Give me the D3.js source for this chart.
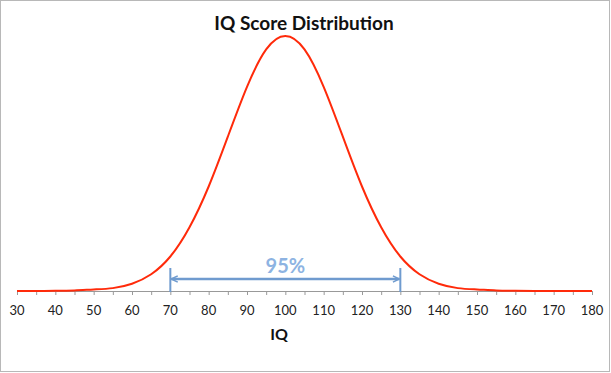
<!DOCTYPE html>
<html>
<head>
<meta charset="utf-8">
<script src="https://cdn.jsdelivr.net/npm/d3@7"></script>
<style>
  body { margin: 0; background: #fff; }
  svg { display: block; font-family: Lato, "Open Sans", sans-serif; }
</style>
</head>
<body>
<div id="chart"></div>
<script>
// IQ values (x) and the density (y)
var iqValues = [30, 35, 40, 45, 50, 55, 60, 65, 70, 75, 80, 85, 90, 95, 100,
                105, 110, 115, 120, 125, 130, 135, 140, 145, 150, 155, 160, 165, 170, 175, 180];
var density = [0.00001, 0.00004, 0.0002, 0.0006, 0.0016, 0.0030, 0.0076, 0.0175, 0.036, 0.0665, 0.109, 0.161, 0.213, 0.252, 0.266,
               0.252, 0.213, 0.161, 0.109, 0.0665, 0.036, 0.0175, 0.0076, 0.0030, 0.0016, 0.0006, 0.0002, 0.00004, 0.00001, 0.0, 0.0];
var tickLabels = [30, 40, 50, 60, 70, 80, 90, 100, 110, 120, 130, 140, 150, 160, 170, 180];
var rangeLow = 70, rangeHigh = 130, rangeLabel = "95%";

var width = 611, height = 373;

var svg = d3.select("#chart").append("svg")
    .attr("width", width)
    .attr("height", height);

svg.append("rect")
    .attr("x", 0.5).attr("y", 0.5)
    .attr("width", 609).attr("height", 371)
    .attr("fill", "#fff")
    .attr("stroke", "#b8b8b8");

var x = d3.scaleLinear()
    .domain([30, 180])
    .range([17, 592]);

var y = d3.scaleLinear()
    .domain([0, 0.266])
    .range([291, 36]);

// axis with minor ticks every 5
var axis = svg.append("g")
    .attr("transform", "translate(0,291)")
    .call(d3.axisBottom(x).tickValues(d3.range(30, 181, 5)).tickSize(4).tickFormat(""));
axis.select(".domain").attr("stroke", "#999").attr("d", "M" + x(30) + ",0.5H" + x(180));
axis.selectAll(".tick line").attr("stroke", "#999");

svg.append("g").selectAll("text")
    .data(tickLabels)
    .enter().append("text")
    .attr("x", function(d) { return x(d); })
    .attr("y", 315)
    .attr("text-anchor", "middle")
    .attr("font-size", 13)
    .attr("fill", "#222")
    .text(function(d) { return d; });

var line = d3.line()
    .x(function(d, i) { return x(iqValues[i]); })
    .y(function(d) { return Math.min(y(d), 291); })
    .curve(d3.curveNatural);

svg.append("path")
    .datum(density)
    .attr("d", line)
    .attr("fill", "none")
    .attr("stroke", "#ff2a0a")
    .attr("stroke-width", 2);

// 95% range marker
var blue = "#6f9bcf";
svg.append("defs").selectAll("marker")
    .data(["start", "end"])
    .enter().append("marker")
    .attr("id", function(d) { return "arr-" + d; })
    .attr("viewBox", "0 0 10 10")
    .attr("refX", function(d) { return d == "end" ? 9 : 1; })
    .attr("refY", 5)
    .attr("markerWidth", 8).attr("markerHeight", 8)
    .attr("markerUnits", "userSpaceOnUse")
    .attr("orient", "auto")
    .append("path")
    .attr("d", function(d) { return d == "end" ? "M1,1L9,5L1,9" : "M9,1L1,5L9,9"; })
    .attr("fill", "none")
    .attr("stroke", blue)
    .attr("stroke-width", 1.8);

[rangeLow, rangeHigh].forEach(function(v) {
    svg.append("line")
        .attr("x1", x(v)).attr("x2", x(v))
        .attr("y1", 268).attr("y2", 292)
        .attr("stroke", blue).attr("stroke-width", 2);
});

svg.append("line")
    .attr("x1", x(rangeLow) + 1).attr("x2", x(rangeHigh) - 1)
    .attr("y1", 279).attr("y2", 279)
    .attr("stroke", blue).attr("stroke-width", 2.5)
    .attr("marker-start", "url(#arr-start)")
    .attr("marker-end", "url(#arr-end)");

svg.append("text")
    .attr("x", (x(rangeLow) + x(rangeHigh)) / 2)
    .attr("y", 273)
    .attr("text-anchor", "middle")
    .attr("font-size", 20)
    .attr("font-weight", "bold")
    .attr("fill", "#8db3e2")
    .text(rangeLabel);

svg.append("text")
    .attr("x", 304).attr("y", 30)
    .attr("text-anchor", "middle")
    .attr("font-size", 19)
    .attr("font-weight", "bold")
    .attr("fill", "#111")
    .text("IQ Score Distribution");

svg.append("text")
    .attr("x", 279).attr("y", 340)
    .attr("text-anchor", "middle")
    .attr("font-size", 16)
    .attr("font-weight", "bold")
    .attr("fill", "#111")
    .text("IQ");
</script>
</body>
</html>
